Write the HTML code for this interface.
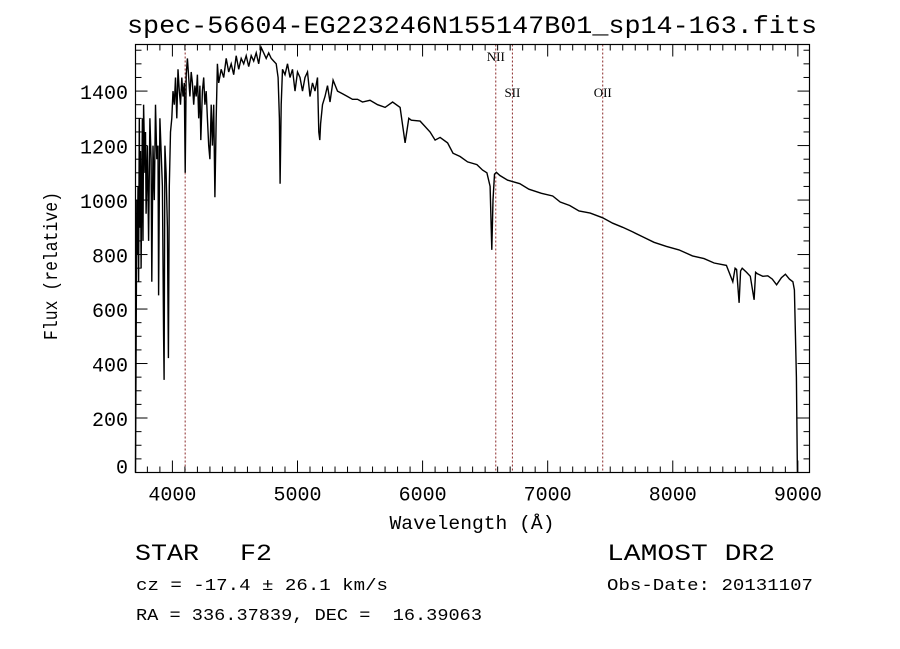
<!DOCTYPE html>
<html><head><meta charset="utf-8"><style>
html,body{margin:0;padding:0;background:#fff;}
svg{display:block;}
text{font-family:"Liberation Mono",monospace;fill:#000;}
.lbl{font-family:"Liberation Serif",serif;font-size:13px;}
</style></head><body>
<svg id="chart" width="900" height="649" viewBox="0 0 900 649">
<text x="472" y="33" font-size="25" text-anchor="middle" textLength="690" lengthAdjust="spacingAndGlyphs">spec-56604-EG223246N155147B01_sp14-163.fits</text>
<g id="lines"></g>
<g id="axes"></g>
<path id="spec" fill="none" stroke="#000" stroke-width="1.4"></path>
<rect x="135.5" y="44.5" width="674" height="428" fill="none" stroke="#000" stroke-width="1.2"></rect>
<text x="472" y="529" font-size="19" text-anchor="middle" textLength="165" lengthAdjust="spacingAndGlyphs">Wavelength (Å)</text>
<text transform="translate(57,266) rotate(-90)" font-size="19" text-anchor="middle" textLength="148" lengthAdjust="spacingAndGlyphs">Flux (relative)</text>
<text x="135" y="560" font-size="23" textLength="64" lengthAdjust="spacingAndGlyphs">STAR</text>
<text x="240" y="560" font-size="23" textLength="32" lengthAdjust="spacingAndGlyphs">F2</text>
<text x="607" y="560" font-size="23" textLength="168" lengthAdjust="spacingAndGlyphs">LAMOST DR2</text>
<text x="136" y="590" font-size="17" textLength="252" lengthAdjust="spacingAndGlyphs">cz = -17.4 ± 26.1 km/s</text>
<text x="607" y="590" font-size="17" textLength="206" lengthAdjust="spacingAndGlyphs">Obs-Date: 20131107</text>
<text x="136" y="620" font-size="17" xml:space="preserve" textLength="346" lengthAdjust="spacingAndGlyphs">RA = 336.37839, DEC =  16.39063</text>
</svg>
<script>
const wavelengths=[3705,3710,3715,3720,3725,3730,3735,3740,3745,3750,3760,3765,3770,3780,3785,3790,3800,3810,3820,3830,3835,3845,3855,3865,3875,3885,3890,3900,3910,3920,3930,3934,3940,3950,3960,3968,3975,3985,3995,4005,4015,4025,4035,4045,4055,4065,4075,4085,4095,4102,4110,4120,4130,4140,4150,4160,4170,4180,4190,4200,4210,4220,4227,4240,4250,4260,4270,4280,4290,4300,4310,4320,4330,4340,4350,4360,4370,4390,4410,4430,4450,4470,4490,4510,4530,4550,4570,4590,4610,4630,4650,4670,4690,4710,4730,4750,4770,4790,4810,4830,4845,4855,4861,4870,4880,4900,4920,4940,4960,4980,5000,5020,5040,5060,5080,5100,5120,5140,5160,5170,5178,5185,5200,5220,5240,5260,5285,5320,5360,5400,5440,5480,5520,5580,5640,5700,5760,5820,5860,5890,5910,5980,6060,6100,6140,6200,6243,6300,6360,6434,6480,6514,6540,6553,6563,6575,6590,6618,6680,6777,6850,6950,7040,7100,7176,7250,7340,7440,7520,7600,7680,7759,7850,7950,8050,8158,8250,8330,8429,8480,8498,8510,8530,8542,8555,8589,8620,8650,8662,8675,8720,8760,8796,8830,8868,8900,8932,8960,8972,8988,8996,9000];
const fluxes=[0,450,1000,800,1050,700,1300,900,1180,750,1300,850,1350,1100,1250,950,1200,850,1300,1150,700,1200,1000,1350,1150,1200,650,1300,1180,1050,500,340,1200,1100,900,420,1050,1250,1300,1400,1350,1450,1300,1480,1400,1350,1450,1380,1430,1100,1460,1520,1450,1380,1470,1430,1350,1420,1380,1460,1300,1420,1220,1400,1450,1350,1400,1300,1200,1150,1350,1200,1350,1010,1300,1500,1430,1480,1450,1520,1470,1500,1460,1530,1480,1520,1500,1530,1490,1530,1510,1540,1500,1560,1540,1520,1540,1520,1510,1500,1450,1300,1060,1350,1480,1460,1500,1450,1480,1400,1470,1450,1400,1450,1470,1380,1430,1400,1450,1250,1220,1280,1350,1380,1420,1360,1440,1400,1390,1380,1370,1370,1360,1366,1350,1340,1360,1340,1210,1300,1293,1290,1250,1220,1230,1210,1172,1160,1140,1130,1110,1100,1050,817,1000,1095,1102,1090,1073,1060,1040,1025,1015,993,980,960,952,935,915,900,883,865,845,830,817,795,785,769,760,700,750,745,623,740,750,735,720,634,735,730,720,722,710,689,715,728,710,700,670,350,0];
const lineWaves=[4102,6585,6718,7440];
const lineLabels=["","NII","SII","OII"];
const lineLabelY=[0,61,97,97];
const xTicks=[4000,5000,6000,7000,8000,9000];
const yTicks=[0,200,400,600,800,1000,1200,1400];

const X0=3705,X1=9093,Y0=0,Y1=1571;
const L=135.5,R=809.5,T=44.5,B=472.5;
const xs=w=>L+(w-X0)/(X1-X0)*(R-L);
const ys=f=>B-(f-Y0)/(Y1-Y0)*(B-T);
const NS="http://www.w3.org/2000/svg";
function mk(tag,attrs,parent){const e=document.createElementNS(NS,tag);for(const k in attrs)e.setAttribute(k,attrs[k]);parent.appendChild(e);return e;}

let d="";
for(let i=0;i<wavelengths.length;i++){d+=(i?"L":"M")+xs(wavelengths[i]).toFixed(1)+","+ys(fluxes[i]).toFixed(1);}
document.getElementById("spec").setAttribute("d",d);

const lg=document.getElementById("lines");
for(let i=0;i<lineWaves.length;i++){
  const x=xs(lineWaves[i]);
  const ln=mk("line",{x1:x,x2:x,y1:T,y2:B,stroke:"#8b2a2a","stroke-width":1,"stroke-dasharray":"2,2"},lg);
  
  
  if(lineLabels[i]){
    const t=mk("text",{x:x,y:lineLabelY[i],"text-anchor":"middle",class:"lbl"},lg);
    t.textContent=lineLabels[i];
    
    
  }
}

const ag=document.getElementById("axes");
for(let w=3800;w<=9000;w+=100){
  const x=xs(w);const major=w%1000===0;const len=major?12:6;
  mk("line",{x1:x,x2:x,y1:B,y2:B-len,stroke:"#000","stroke-width":1},ag);
  mk("line",{x1:x,x2:x,y1:T,y2:T+len,stroke:"#000","stroke-width":1},ag);
}
for(const v of xTicks){
  const t=mk("text",{x:xs(v),y:B+28,"text-anchor":"middle","font-size":20},ag);
  t.textContent=v;
  
  
}
for(let f=0;f<=1550;f+=50){
  const y=ys(f);const major=f%200===0;const len=major?12:6;
  mk("line",{x1:L,x2:L+len,y1:y,y2:y,stroke:"#000","stroke-width":1},ag);
  mk("line",{x1:R,x2:R-len,y1:y,y2:y,stroke:"#000","stroke-width":1},ag);
}
for(const v of yTicks){
  const t=mk("text",{x:128,y:ys(v)+(v===0?1:8),"text-anchor":"end","font-size":20},ag);
  t.textContent=v;
  
  
}
</script>
</body></html>
